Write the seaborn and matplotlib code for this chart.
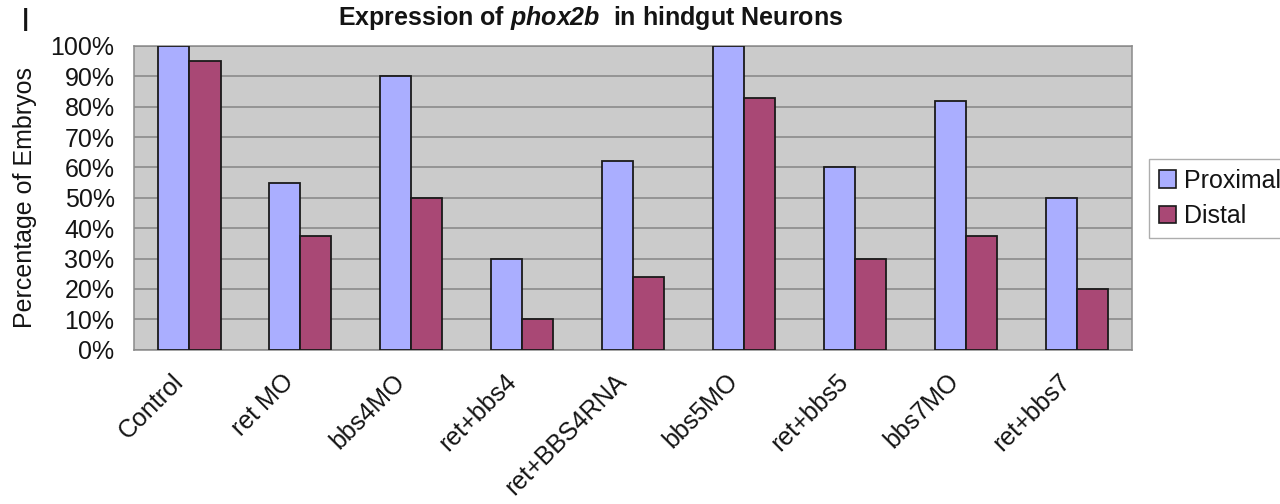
import matplotlib
matplotlib.use("Agg")
import matplotlib.pyplot as plt
import matplotlib.ticker as mticker
import matplotlib.transforms as mtransforms
from matplotlib.patches import Patch
import numpy as np
import pandas as pd
import seaborn as sns

# Data: percentage of embryos with phox2b-positive hindgut neurons
conditions = ["Control", "ret MO", "bbs4MO", "ret+bbs4", "ret+BBS4RNA",
              "bbs5MO", "ret+bbs5", "bbs7MO", "ret+bbs7"]
proximal = [100, 55, 90, 30, 62, 100, 60, 82, 50]
distal = [95, 37.5, 50, 10, 24, 83, 30, 37.5, 20]
series_names = ["Proximal", "Distal"]
y_ticks = list(range(0, 101, 10))

colors = {"Proximal": "#AAAEFF", "Distal": "#A94875"}
TEXT = "#141414"

df = pd.DataFrame({
    "condition": conditions * 2,
    "region": [series_names[0]] * len(conditions) + [series_names[1]] * len(conditions),
    "pct": proximal + distal,
})

sns.set_style("white")
plt.rcParams["font.family"] = ["Liberation Sans", "DejaVu Sans"]
plt.rcParams["mathtext.fontset"] = "custom"
plt.rcParams["mathtext.bfit"] = "Liberation Sans:italic:bold"
plt.rcParams["mathtext.it"] = "Liberation Sans:italic"
plt.rcParams["mathtext.rm"] = "Liberation Sans"
plt.rcParams["mathtext.bf"] = "Liberation Sans:bold"
plt.rcParams["text.color"] = TEXT
plt.rcParams["axes.labelcolor"] = TEXT
plt.rcParams["xtick.labelcolor"] = TEXT
plt.rcParams["ytick.labelcolor"] = TEXT

FS = 18

fig = plt.figure(figsize=(12.8, 5.04), dpi=100)
ax = fig.add_axes([0.1047, 0.306, 0.7797, 0.603])
ax.set_facecolor("#CBCBCB")

sns.barplot(data=df, x="condition", y="pct", hue="region", order=conditions,
            hue_order=series_names, palette=colors, width=0.56, gap=0,
            edgecolor="#1a1a1a", linewidth=1.3, saturation=1, ax=ax,
            legend=False, zorder=3)

ax.set_ylim(0, 100)
ax.set_xlim(-0.5, len(conditions) - 0.5)
ax.set_yticks(y_ticks)
ax.yaxis.set_major_formatter(mticker.FuncFormatter(lambda v, p: f"{int(v)}%"))
ax.yaxis.grid(True, color="#858585", linewidth=1.1, zorder=1)
ax.set_axisbelow(True)

# boundary tick marks between categories; category names drawn as rotated text
ax.set_xticks([])
ax.set_xticks(np.arange(-0.5, len(conditions), 1.0), minor=True)
ax.tick_params(axis="x", which="minor", length=6, width=1, color="#888888",
               direction="out", labelbottom=False)
ax.tick_params(axis="y", length=6, width=1, color="#888888", direction="out",
               labelsize=FS, pad=8)

label_trans = mtransforms.blended_transform_factory(ax.transData, ax.transAxes) + \
    mtransforms.ScaledTranslation(-0.10, -0.28, fig.dpi_scale_trans)
for i, name in enumerate(conditions):
    ax.text(i, 0, name, transform=label_trans, rotation=45, ha="right",
            va="center", rotation_mode="anchor", fontsize=FS, color=TEXT)

for s in ax.spines.values():
    s.set_color("#8a8a8a")
    s.set_linewidth(1.1)

ax.set_xlabel("")
ax.set_ylabel("Percentage of Embryos", fontsize=FS, labelpad=10)

# title with italic gene name
fig.text(0.461, 0.965, r"Expression of $\mathbfit{phox2b}$  in hindgut Neurons",
         ha="center", va="center", fontsize=FS, fontweight="bold")
fig.text(0.02, 0.955, "I", fontsize=24, ha="center", va="center")

handles = [Patch(facecolor=colors[n], edgecolor="#1a1a1a", linewidth=1.2, label=n)
           for n in series_names]
leg = fig.legend(handles=handles, loc="upper left", bbox_to_anchor=(0.898, 0.685),
                 fontsize=FS, frameon=True, fancybox=False, edgecolor="#999999",
                 handlelength=0.68, handleheight=0.68, handletextpad=0.3,
                 borderpad=0.4, labelspacing=0.45, borderaxespad=0)
leg.get_frame().set_linewidth(1)

fig.savefig("out.png", dpi=100, facecolor="white")
